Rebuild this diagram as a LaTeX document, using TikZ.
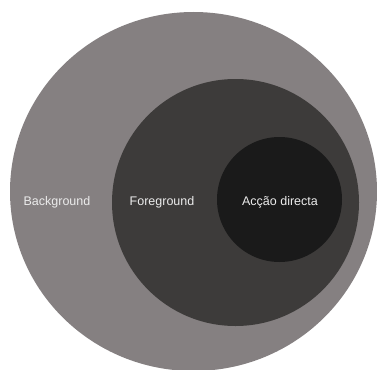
\documentclass[tikz,border=0pt]{standalone}
\usepackage{fontspec}
\setmainfont{Liberation Sans}
\begin{document}
\begin{tikzpicture}[x=1pt,y=-1pt,
  ring/.style={draw=none},
  lbl/.style={text=white!92!black, font=\fontsize{12.5}{14}\selectfont, inner sep=0pt}]
  \definecolor{outergrey}{RGB}{133,128,129}
  \definecolor{midgrey}{RGB}{61,59,58}
  \definecolor{coregrey}{RGB}{26,26,26}
  \useasboundingbox (0,0) rectangle (377,369);
  \begin{scope}
    \clip (0,0) rectangle (377,369);
    % nested circles, outermost first
    \fill[outergrey] (193.5,191.5) ellipse [x radius=183.5, y radius=179.5];
    \fill[midgrey] (235.5,202.5) circle [radius=123.5];
    \fill[coregrey] (279.5,199.5) circle [radius=62.5];
  \end{scope}
  \node[lbl] (bg) at (57,202) {Background};
  \node[lbl] (fg) at (162,202) {Foreground};
  \node[lbl] (ad) at (280,202) {Acção directa};
\end{tikzpicture}
\end{document}
